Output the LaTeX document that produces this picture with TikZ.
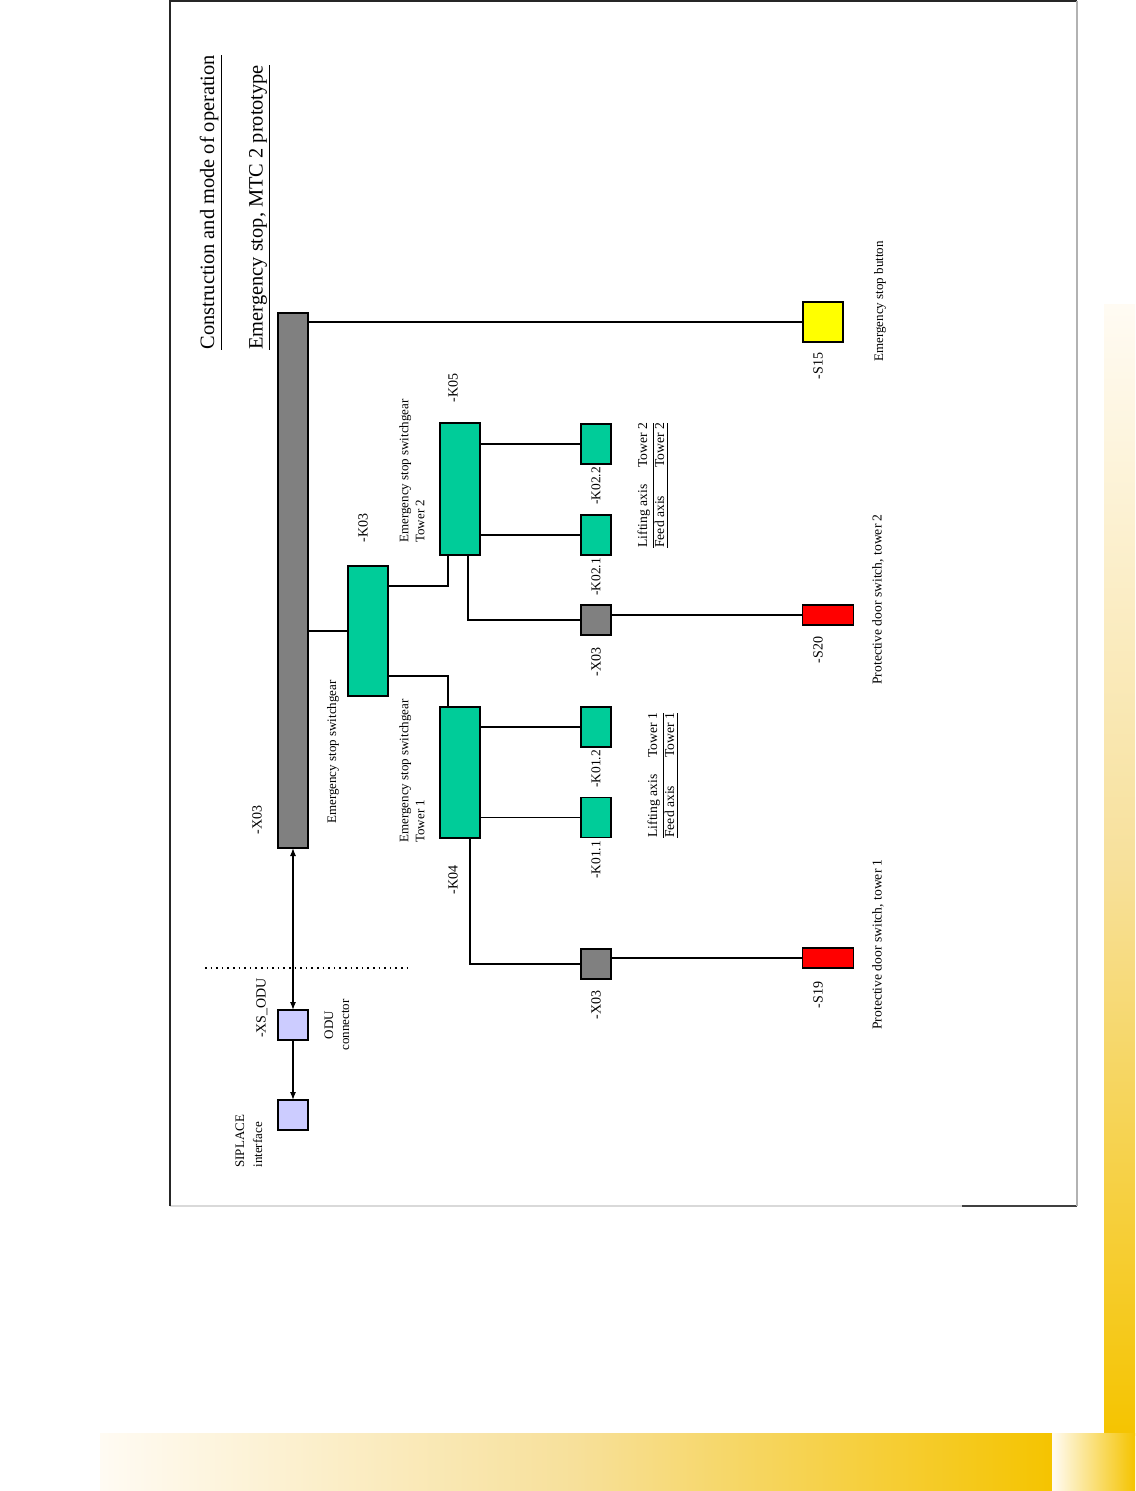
\documentclass[tikz,border=0pt]{standalone}
\usepackage{fontspec}
\setmainfont{Liberation Serif}
\usetikzlibrary{arrows.meta,calc}
\definecolor{kgreen}{RGB}{0,204,153}
\definecolor{xgray}{RGB}{128,128,128}
\definecolor{odublue}{RGB}{204,204,255}
\definecolor{sred}{RGB}{255,0,0}
\definecolor{syellow}{RGB}{255,255,0}
\definecolor{barlight}{HTML}{FFFBF3}
\definecolor{barmid}{HTML}{F7E09A}
\definecolor{bardark}{HTML}{F5C400}

\begin{document}
\begin{tikzpicture}[x=0.5pt,y=-0.5pt,
  box/.style={draw=black,line width=0.9pt,inner sep=0pt,outer sep=0pt},
  lbl/.style={rotate=90,inner sep=0pt,font=\fontsize{7}{8}\selectfont},
  txt/.style={rotate=90,inner sep=0pt,font=\fontsize{6.5}{8}\selectfont},
  wire/.style={line width=0.6pt},
  bus/.style={line width=1.4pt}]

\useasboundingbox (0,0) rectangle (1135,1491);

%page decoration
\shade[top color=barlight,bottom color=bardark,middle color=barmid] (1104,305) rectangle (1135,1435);
\shade[left color=barlight,right color=bardark,middle color=barmid] (100,1433) rectangle (1052,1491);
\shade[shading angle=135,left color=barlight,right color=bardark] (1052,1433) rectangle (1135,1491);
\draw[black!75,line width=0.8pt] (1077,1206) -- (962,1206);
\draw[black!15,line width=0.8pt] (962,1206) -- (170,1206);
\draw[black!85,line width=0.8pt] (170,1206) -- (170,1) -- (1077,1);
\draw[black!30,line width=0.8pt] (1077,1) -- (1077,1206);

%titles
\node[rotate=90,anchor=west,inner sep=0pt,font=\fontsize{10.2}{12}\selectfont] (title) at (211,350) {\underline{Construction and mode of operation}};
\node[rotate=90,anchor=west,inner sep=0pt,font=\fontsize{10.2}{12}\selectfont] (subtitle) at (260,350) {\underline{Emergency stop,\ MTC 2 prototype}};

%boxes
\node[box,fill=xgray,minimum width=15pt,minimum height=267.5pt] (bar) at (293,580.5) {};
\node[box,fill=odublue,minimum width=15pt,minimum height=15pt] (xsodu) at (293,1025) {};
\node[box,fill=odublue,minimum width=15pt,minimum height=15pt] (siplace) at (293,1115) {};
\node[box,fill=kgreen,minimum width=20pt,minimum height=65pt] (k03) at (368,631) {};
\node[box,fill=kgreen,minimum width=20pt,minimum height=66pt] (k05) at (460,489) {};
\node[box,fill=kgreen,minimum width=20pt,minimum height=65.5pt] (k04) at (460,772.5) {};
\node[box,fill=kgreen,minimum width=15pt,minimum height=20pt] (k022) at (596,444) {};
\node[box,fill=kgreen,minimum width=15pt,minimum height=20pt] (k021) at (596,535) {};
\node[box,fill=xgray,minimum width=15pt,minimum height=15pt] (x03b) at (596,620) {};
\node[box,fill=kgreen,minimum width=15pt,minimum height=20pt] (k012) at (596,727) {};
\node[box,fill=kgreen,minimum width=15pt,minimum height=20pt] (k011) at (596,817.5) {};
\node[box,fill=xgray,minimum width=15pt,minimum height=15pt] (x03a) at (596,964) {};
\node[box,fill=syellow,minimum width=20pt,minimum height=20pt] (s15) at (823,322) {};
\node[box,fill=sred,minimum width=25.5pt,minimum height=10pt] (s20) at (828,615) {};
\node[box,fill=sred,minimum width=25.5pt,minimum height=10pt] (s19) at (828,958) {};

%interface
\coordinate (sepL) at (205,968);
\coordinate (sepR) at (408,968);
\draw[dotted,line width=0.8pt] (sepL) -- (sepR);
\draw[wire,{Latex[length=4pt,width=3pt]}-{Latex[length=4pt,width=3pt]}] (bar.south) -- (xsodu.north);
\draw[wire,-{Latex[length=4pt,width=3pt]}] (xsodu.south) -- (siplace.north);

%connections
\draw[wire] (bar.east |- s15.west) -- (s15.west);
\draw[bus] (bar.east |- k03.west) -- (k03.west);
\draw[bus] ($(k03.north east)+(0,20)$) -| ($(k05.south west)+(8,0)$);
\draw[bus] ($(k03.south east)+(0,-20)$) -| ($(k04.north west)+(8,0)$);
\draw[wire] (k05.east |- k022.west) -- (k022.west);
\draw[wire] (k05.east |- k021.west) -- (k021.west);
\draw[wire] ($(k05.south west)+(28,0)$) |- (x03b.west);
\draw[wire] (x03b.east |- s20.west) -- (s20.west);
\draw[wire] (k04.east |- k012.west) -- (k012.west);
\draw[wire] (k04.east |- k011.west) -- (k011.west);
\draw[wire] ($(k04.south west)+(30,0)$) |- (x03a.west);
\draw[wire] (x03a.east |- s19.west) -- (s19.west);

%labels
\node[lbl] (barlbl) at (257,820) {-X03};
\node[lbl] (xsodulbl) at (262,1008) {-XS\_ODU};
\node[txt,align=center] (odulbl) at (337,1025) {ODU\\connector};
\node[txt,align=left,anchor=west,font=\fontsize{6.5}{9}\selectfont] (siplacelbl) at (249,1168) {SIPLACE\\interface};
\node[lbl] (k03lbl) at (363,528) {-K03};
\node[txt] (k03txt) at (333,752) {Emergency stop switchgear};
\node[lbl] (k05lbl) at (453,388) {-K05};
\node[txt,align=left,anchor=west] (k05txt) at (412,543) {Emergency stop switchgear\\Tower 2};
\node[lbl] (k04lbl) at (453,880) {-K04};
\node[txt,align=left,anchor=west] (k04txt) at (412,843) {Emergency stop switchgear\\Tower 1};
\node[lbl,font=\fontsize{6.7}{8}\selectfont] (k022lbl) at (596,486) {-K02.2};
\node[lbl,font=\fontsize{6.7}{8}\selectfont] (k021lbl) at (596,577) {-K02.1};
\node[lbl] (x03blbl) at (596,662) {-X03};
\node[lbl,font=\fontsize{6.7}{8}\selectfont] (k012lbl) at (596,769) {-K01.2};
\node[lbl,font=\fontsize{6.7}{8}\selectfont] (k011lbl) at (596,860) {-K01.1};
\node[lbl] (x03albl) at (596,1005) {-X03};
\node[txt,align=left,anchor=west,font=\fontsize{6.8}{8.5}\selectfont] (tower2txt) at (653,548) {\underline{\makebox[40pt][l]{Lifting axis}Tower 2}\\\underline{\makebox[40pt][l]{Feed axis}Tower 2}};
\node[txt,align=left,anchor=west,font=\fontsize{6.8}{8.5}\selectfont] (tower1txt) at (663,838) {\underline{\makebox[40pt][l]{Lifting axis}Tower 1}\\\underline{\makebox[40pt][l]{Feed axis}Tower 1}};
\node[lbl] (s15lbl) at (818,366) {-S15};
\node[txt,anchor=west] (s15txt) at (880,362) {Emergency stop button};
\node[lbl] (s20lbl) at (818,650) {-S20};
\node[txt,anchor=west,font=\fontsize{6.8}{8}\selectfont] (s20txt) at (878,685) {Protective door switch, tower 2};
\node[lbl] (s19lbl) at (818,995) {-S19};
\node[txt,anchor=west,font=\fontsize{6.8}{8}\selectfont] (s19txt) at (878,1030) {Protective door switch, tower 1};

\end{tikzpicture}
\end{document}
